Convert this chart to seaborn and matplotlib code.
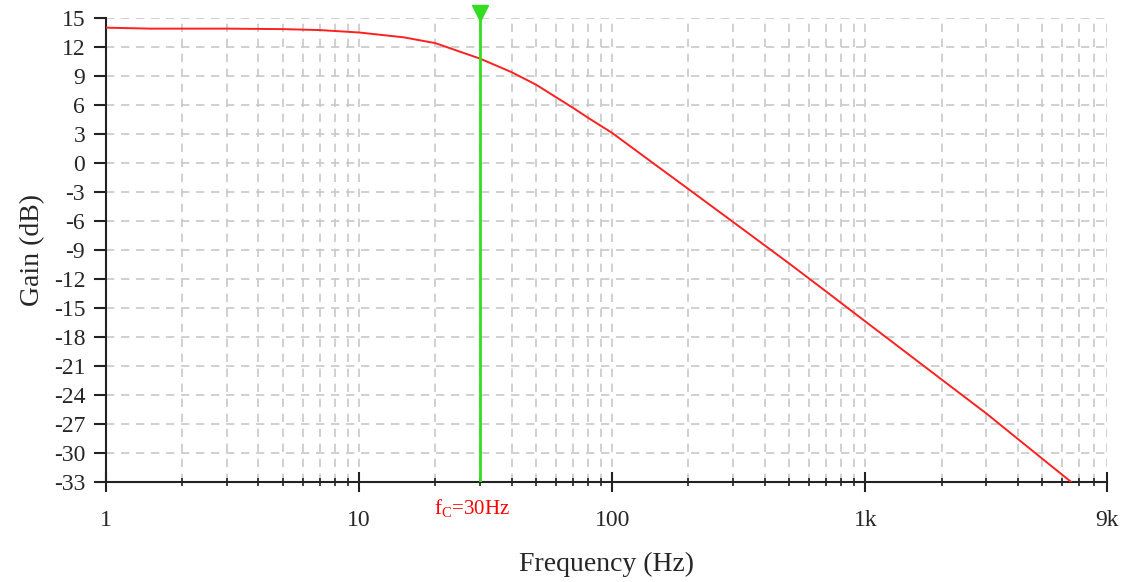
import matplotlib
matplotlib.use("Agg")
import matplotlib.pyplot as plt
import seaborn as sns
import numpy as np
import pandas as pd
from matplotlib.ticker import FixedLocator, NullFormatter

# Data
freq_hz = [1, 1.5, 2, 3, 5, 7, 10, 15, 20, 30, 40, 50, 60, 70, 80, 100, 150,
           200, 300, 500, 700, 1000, 2000, 3000, 5000, 6500]
gain_db = [14.0, 13.9, 13.9, 13.9, 13.85, 13.75, 13.5, 13.0, 12.4, 10.8, 9.4, 8.1,
           6.8, 5.7, 4.7, 3.1, -0.3, -2.7, -6.1, -10.4, -13.3, -16.4, -22.4,
           -25.9, -30.6, -33.0]
fc_hz = 30
fc_label = "f$_\\mathrm{C}$=30Hz"
x_major = [1, 10, 100, 1000, 9000]
x_labels = ["1", "10", "100", "1k", "9k"]
y_ticks = list(range(-33, 16, 3))

sns.set_style("white")
plt.rcParams['font.family'] = ['Liberation Serif', 'DejaVu Serif']
plt.rcParams['mathtext.fontset'] = 'custom'
plt.rcParams['mathtext.rm'] = 'Liberation Serif'
plt.rcParams['mathtext.it'] = 'Liberation Serif:italic'

fig = plt.figure(figsize=(11.27, 5.82), dpi=100)
ax = fig.add_axes([106/1127, 1-482/582, (1107-106)/1127, (482-18)/582])

df = pd.DataFrame({"Frequency": freq_hz, "Gain": gain_db})
sns.lineplot(data=df, x="Frequency", y="Gain", ax=ax, color="#ff2020", lw=1.4, zorder=3)

ax.set_xscale("log")
ax.set_xlim(1, 9000)
ax.set_ylim(-33, 15)

minor = []
for dec in [1, 10, 100, 1000]:
    for m in range(2, 10):
        v = dec * m
        if v < 9000:
            minor.append(v)
ax.xaxis.set_major_locator(FixedLocator(x_major))
ax.set_xticklabels(x_labels)
ax.xaxis.set_minor_locator(FixedLocator(minor))
ax.xaxis.set_minor_formatter(NullFormatter())
ax.set_yticks(y_ticks)
ax.set_yticklabels([str(v) for v in y_ticks])

ax.grid(True, which="major", axis="both", color="#c8c8c8", ls=(0, (5, 4)), lw=1.2)
ax.grid(True, which="minor", axis="x", color="#c8c8c8", ls=(0, (5, 4)), lw=1.2)

for s in ["top", "right"]:
    ax.spines[s].set_visible(False)
for s in ["left", "bottom"]:
    ax.spines[s].set_color("#222222")
    ax.spines[s].set_linewidth(1.5)

ax.tick_params(axis="y", which="major", direction="out", length=9, width=1.5,
               color="#222222", labelsize=17, pad=6, left=True)
ax.tick_params(axis="x", which="major", direction="inout", length=14, width=1.5,
               color="#222222", labelsize=17, pad=13, bottom=True)
ax.tick_params(axis="x", which="minor", direction="inout", length=6, width=1.2,
               color="#222222", bottom=True)

ax.set_xlabel("Frequency (Hz)", fontsize=20, labelpad=15)
ax.set_ylabel("Gain (dB)", fontsize=20, labelpad=6)

# cutoff marker
ax.axvline(fc_hz, color="#33dd22", lw=2, zorder=4)
ax.plot([fc_hz], [15.5], marker="v", color="#33dd22", markersize=12, clip_on=False, zorder=5)
ax.text(fc_hz * 0.93, -35.7, fc_label, color="red", fontsize=15, ha="center", va="center")

fig.savefig("out.png", dpi=100)
